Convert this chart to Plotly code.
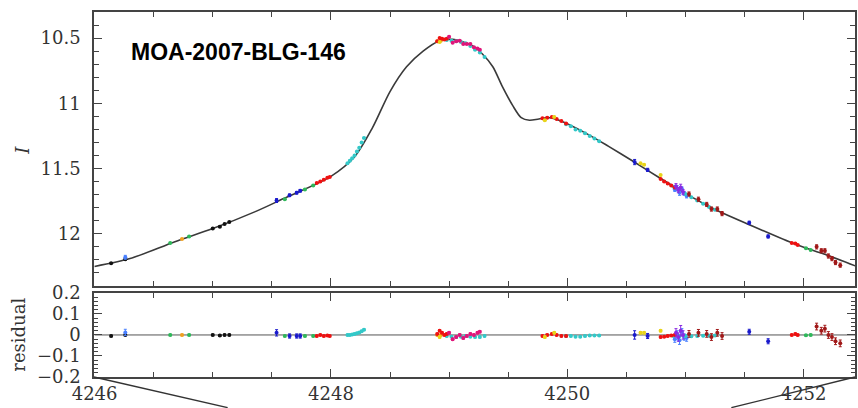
import plotly.graph_objects as go

# ---------------- model light curve ----------------
model_t = [4246.00, 4246.30, 4246.68, 4247.00, 4247.36, 4247.60, 4248.00, 4248.20,
           4248.35, 4248.50, 4248.64, 4248.78, 4248.92, 4249.03, 4249.12, 4249.20,
           4249.28, 4249.37, 4249.45, 4249.54, 4249.61, 4249.68, 4249.76, 4249.85,
           4249.93, 4250.16, 4250.35, 4250.55, 4250.78, 4251.00, 4251.22, 4251.54,
           4251.93, 4252.19, 4252.45]
model_mag = [12.25, 12.19, 12.06, 11.96, 11.83, 11.73, 11.56, 11.41,
             11.19, 10.91, 10.72, 10.60, 10.52, 10.51, 10.53, 10.56,
             10.62, 10.72, 10.87, 11.02, 11.11, 11.13, 11.12, 11.11,
             11.13, 11.23, 11.33, 11.44, 11.57, 11.69, 11.80, 11.93,
             12.08, 12.16, 12.25]

# ---------------- observatory data sets ----------------
t_black = [4246.14, 4246.26, 4247.00, 4247.06, 4247.10, 4247.14]
mag_black = [12.225, 12.195, 11.96, 11.945, 11.925, 11.91]
res_black = [-0.005, 0.0, 0.0, -0.003, 0.0, 0.0]
err_black = [0.004, 0.004, 0.004, 0.004, 0.004, 0.004]

t_lblue = [4246.26, 4250.91, 4250.93, 4250.95, 4250.97, 4250.99, 4251.01]
mag_lblue = [12.18, 11.66, 11.65, 11.685, 11.655, 11.69, 11.71]
res_lblue = [0.012, -0.02, 0.0, -0.025, 0.015, -0.01, -0.015]
err_lblue = [0.015, 0.015, 0.02, 0.02, 0.015, 0.015, 0.015]

t_green = [4246.64, 4246.80, 4247.61, 4247.78, 4247.85, 4252.02, 4252.06]
mag_green = [12.07, 12.02, 11.735, 11.66, 11.63, 12.11, 12.125]
res_green = [0.0, 0.0, -0.005, -0.005, -0.005, -0.002, 0.0]
err_green = [0.004, 0.004, 0.004, 0.004, 0.004, 0.004, 0.004]

t_orange = [4246.74, 4248.90, 4248.93]
mag_orange = [12.04, 10.525, 10.52]
res_orange = [0.0, 0.0, 0.0]
err_orange = [0.004, 0.004, 0.004]

t_blue = [4247.54, 4247.65, 4247.71, 4247.74, 4250.57, 4250.68, 4251.54, 4251.70]
mag_blue = [11.745, 11.705, 11.685, 11.67, 11.45, 11.51, 11.915, 12.02]
res_blue = [0.01, -0.005, -0.005, -0.005, 0.0, -0.005, 0.015, -0.03]
err_blue = [0.015, 0.01, 0.01, 0.01, 0.02, 0.012, 0.012, 0.012]

t_red = [4247.88, 4247.91, 4247.94, 4247.97, 4247.99,
         4248.90, 4248.92, 4248.94, 4248.96, 4248.98,
         4249.79, 4249.83, 4249.87, 4249.91, 4249.95, 4249.99,
         4250.79, 4250.82, 4250.85, 4250.88, 4250.91,
         4251.90, 4251.93, 4251.95]
mag_red = [11.61, 11.60, 11.585, 11.57, 11.565,
           10.525, 10.50, 10.505, 10.51, 10.505,
           11.115, 11.11, 11.105, 11.12, 11.135, 11.155,
           11.58, 11.60, 11.615, 11.63, 11.645,
           12.07, 12.075, 12.085]
res_red = [-0.005, 0.0, -0.005, -0.003, -0.005,
           0.005, 0.02, 0.01, 0.0, 0.005,
           -0.005, 0.0, 0.005, 0.0, -0.005, -0.005,
           -0.01, -0.008, -0.005, -0.003, 0.0,
           0.0, 0.005, 0.0]
err_red = [0.004] * 24

t_cyan = [4248.14, 4248.16, 4248.18, 4248.20, 4248.22, 4248.24, 4248.26, 4248.28,
          4248.98, 4249.02, 4249.06, 4249.10, 4249.14, 4249.18, 4249.22, 4249.26, 4249.30,
          4249.99, 4250.03, 4250.07, 4250.11, 4250.15, 4250.19, 4250.23, 4250.27,
          4250.90, 4250.95, 4251.00, 4251.05, 4251.10, 4251.15, 4251.20, 4251.25]
mag_cyan = [11.46, 11.44, 11.42, 11.40, 11.37, 11.34, 11.30, 11.265,
            10.515, 10.52, 10.525, 10.53, 10.54, 10.56, 10.59, 10.61, 10.645,
            11.16, 11.175, 11.20, 11.21, 11.23, 11.25, 11.27, 11.29,
            11.64, 11.665, 11.695, 11.72, 11.745, 11.77, 11.795, 11.815]
res_cyan = [0.0, 0.0, 0.002, 0.005, 0.008, 0.012, 0.018, 0.025,
            -0.005, -0.008, -0.01, -0.008, -0.005, -0.008, -0.01, -0.01, -0.005,
            -0.005, -0.005, -0.008, -0.008, -0.005, -0.003, -0.003, -0.003,
            -0.005, -0.005, -0.005, -0.006, -0.005, -0.004, -0.004, -0.003]
err_cyan = [0.004] * 33

t_mag = [4249.00, 4249.03, 4249.06, 4249.09, 4249.12, 4249.15, 4249.18, 4249.21, 4249.24, 4249.26]
mag_mag = [10.49, 10.535, 10.525, 10.52, 10.545, 10.545, 10.545, 10.57, 10.58, 10.59]
res_mag = [0.01, -0.02, -0.01, 0.0, -0.015, -0.005, 0.005, 0.0, 0.01, 0.015]
err_mag = [0.005] * 10

t_yellow = [4248.92, 4249.81, 4249.89, 4250.62, 4250.65, 4250.79]
mag_yellow = [10.53, 11.13, 11.105, 11.46, 11.47, 11.55]
res_yellow = [-0.01, -0.01, 0.01, 0.01, 0.01, 0.02]
err_yellow = [0.005] * 6

t_purple = [4250.92, 4250.94, 4250.96, 4250.98]
mag_purple = [11.635, 11.665, 11.645, 11.68]
res_purple = [0.01, -0.01, 0.02, 0.0]
err_purple = [0.02, 0.02, 0.025, 0.02]

t_dred = [4251.03, 4251.11, 4251.18, 4251.22, 4251.27, 4251.31,
          4252.11, 4252.15, 4252.18, 4252.21, 4252.24, 4252.27, 4252.31]
mag_dred = [11.695, 11.735, 11.775, 11.81, 11.81, 11.845,
            12.10, 12.13, 12.13, 12.17, 12.19, 12.22, 12.24]
res_dred = [0.005, 0.01, 0.005, -0.01, 0.01, -0.005,
            0.04, 0.02, 0.03, 0.0, -0.01, -0.03, -0.04]
err_dred = [0.016] * 13

datasets = [
    (t_green, mag_green, res_green, err_green, "#2fb85a"),
    (t_orange, mag_orange, res_orange, err_orange, "#f0a020"),
    (t_black, mag_black, res_black, err_black, "#111111"),
    (t_lblue, mag_lblue, res_lblue, err_lblue, "#4a80ff"),
    (t_cyan, mag_cyan, res_cyan, err_cyan, "#33c8c8"),
    (t_red, mag_red, res_red, err_red, "#ee1111"),
    (t_mag, mag_mag, res_mag, err_mag, "#e0157a"),
    (t_yellow, mag_yellow, res_yellow, err_yellow, "#e8d41a"),
    (t_blue, mag_blue, res_blue, err_blue, "#1a1acc"),
    (t_purple, mag_purple, res_purple, err_purple, "#8a2be2"),
    (t_dred, mag_dred, res_dred, err_dred, "#a01818"),
]

fig = go.Figure()

fig.add_trace(go.Scatter(x=model_t, y=model_mag, mode="lines",
                         line=dict(color="#3a3a3a", width=1.6, shape="spline", smoothing=0.8),
                         xaxis="x", yaxis="y", hoverinfo="skip"))
fig.add_trace(go.Scatter(x=[model_t[0], model_t[-1]], y=[0, 0], mode="lines",
                         line=dict(color="#555555", width=1),
                         xaxis="x2", yaxis="y2", hoverinfo="skip"))

for t, m, r, e, c in datasets:
    fig.add_trace(go.Scatter(x=t, y=m, mode="markers", xaxis="x", yaxis="y",
                             marker=dict(color=c, size=4),
                             error_y=dict(type="data", array=e, color=c, thickness=1, width=1.5)))
    fig.add_trace(go.Scatter(x=t, y=r, mode="markers", xaxis="x2", yaxis="y2",
                             marker=dict(color=c, size=4),
                             error_y=dict(type="data", array=e, color=c, thickness=1, width=1.5)))

axcol = "#444444"
tickfont = dict(family="DejaVu Serif", size=18, color="#333333")
xr = [4245.995, 4252.435]

common_x = dict(range=xr, showline=True, linecolor=axcol, linewidth=1.5, mirror="allticks",
                ticks="inside", ticklen=8, tickwidth=1.2, tickcolor=axcol, dtick=2, tick0=4246,
                minor=dict(ticks="inside", dtick=0.5, ticklen=5, tickcolor=axcol),
                showgrid=False, zeroline=False)

fig.update_layout(
    width=858, height=408,
    margin=dict(l=94, r=1, t=8, b=31),
    paper_bgcolor="white", plot_bgcolor="white",
    showlegend=False,
    xaxis=dict(**common_x, domain=[0, 1], anchor="y", showticklabels=False),
    yaxis=dict(domain=[0.2493, 1], range=[12.40, 10.30], anchor="x",
               showline=True, linecolor=axcol, linewidth=1.5, mirror="allticks",
               ticks="inside", ticklen=8, tickwidth=1.2, tickcolor=axcol,
               tickvals=[10.5, 11, 11.5, 12], ticktext=["10.5", "11", "11.5", "12"],
               minor=dict(ticks="inside", dtick=0.1, ticklen=5, tickcolor=axcol),
               tickfont=tickfont, ticklabelstandoff=8,
               showgrid=False, zeroline=False),
    xaxis2=dict(**common_x, domain=[0, 1], anchor="y2", showticklabels=True,
                tickfont=tickfont, ticklabelstandoff=0),
    yaxis2=dict(domain=[0, 0.2304], range=[-0.2, 0.2], anchor="x2",
                showline=True, linecolor=axcol, linewidth=1.5, mirror="allticks",
                ticks="inside", ticklen=8, tickwidth=1.2, tickcolor=axcol,
                tickvals=[-0.2, -0.1, 0, 0.1, 0.2], ticktext=["\u22120.2", "\u22120.1", "0", "0.1", "0.2"],
                minor=dict(ticks="inside", dtick=0.02, ticklen=4, tickcolor=axcol),
                tickfont=tickfont, ticklabelstandoff=8,
                showgrid=False, zeroline=False),
)

fig.add_annotation(text="<b>MOA-2007-BLG-146</b>", xref="paper", yref="paper",
                   x=(129 - 94) / 763, y=(377 - 48) / 369, xanchor="left", yanchor="middle",
                   showarrow=False, font=dict(family="Liberation Sans", size=23, color="black"))
fig.add_annotation(text="<i>I</i>", xref="paper", yref="paper",
                   x=(22 - 94) / 763, y=(377 - 148) / 369, xanchor="center", yanchor="middle",
                   textangle=-90, showarrow=False,
                   font=dict(family="DejaVu Serif", size=18, color="#333333"))
fig.add_annotation(text="residual", xref="paper", yref="paper",
                   x=(18 - 94) / 763, y=(377 - 334) / 369, xanchor="center", yanchor="middle",
                   textangle=-90, showarrow=False,
                   font=dict(family="DejaVu Serif", size=18, color="#333333"))

# zoom connector lines to the panel below
fig.add_shape(type="line", xref="paper", yref="paper", x0=0.0, y0=0.0,
              x1=(228 - 94) / 763, y1=-31 / 369, line=dict(color="#333333", width=1.3))
fig.add_shape(type="line", xref="paper", yref="paper", x0=1.0, y0=0.0,
              x1=(733 - 94) / 763, y1=-31 / 369, line=dict(color="#333333", width=1.3))

fig.write_html("out.html")
